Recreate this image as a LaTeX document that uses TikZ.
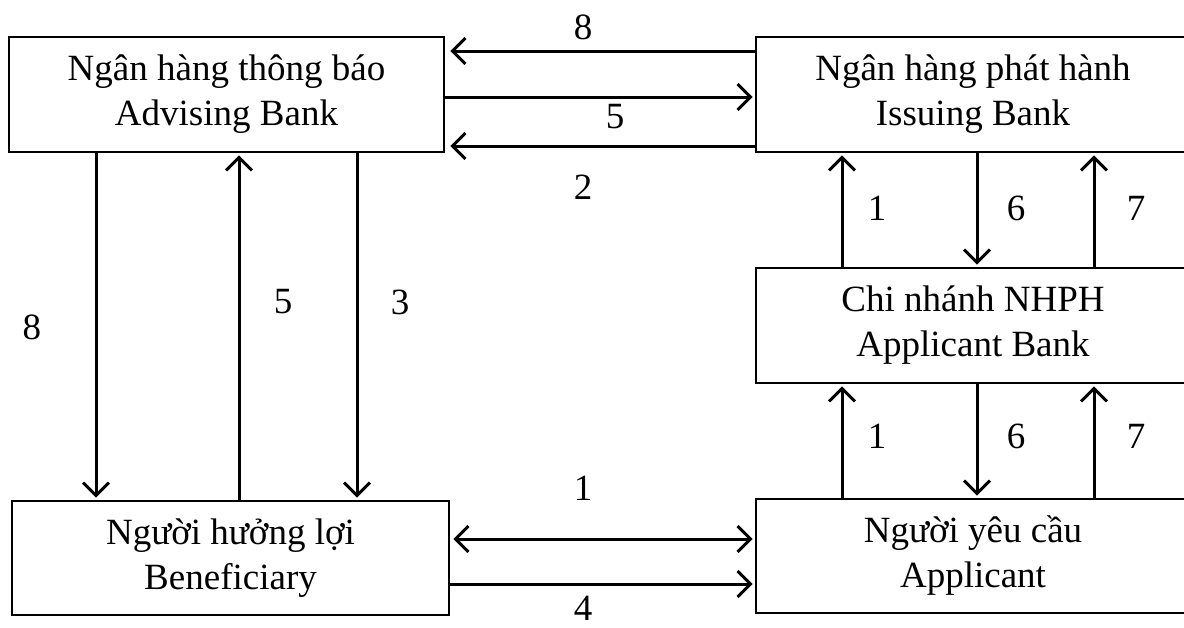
\documentclass[tikz,border=0pt]{standalone}
\usepackage{fontspec}
\setmainfont{Liberation Serif}
\usetikzlibrary{arrows.meta}
\begin{document}
\begin{tikzpicture}[x=1pt,y=-1pt,
  box/.style={draw,line width=2.6pt,inner sep=0pt,align=center,
    font=\fontsize{37}{45}\selectfont},
  lbl/.style={font=\fontsize{37}{45}\selectfont,inner sep=0pt},
  conn/.style={line width=3pt},
  arr/.style={conn,-{Straight Barb[length=13pt,width=26pt,line width=3pt]},shorten >=2pt},
  arrb/.style={conn,{Straight Barb[length=13pt,width=26pt,line width=3pt]}-{Straight Barb[length=13pt,width=26pt,line width=3pt]},shorten >=2pt,shorten <=2pt}]
\useasboundingbox (0,0) rectangle (1184,627);
\clip (0,0) rectangle (1184,627);

% boxes
\node[box,minimum width=435pt,minimum height=115pt] (adv) at (226.5,94.5)
  {Ngân hàng thông báo\\Advising Bank};
\node[box,minimum width=434pt,minimum height=115pt] (iss) at (973,94.5)
  {Ngân hàng phát hành\\Issuing Bank};
\node[box,minimum width=434pt,minimum height=115pt] (chi) at (973,325.5)
  {Chi nhánh NHPH\\Applicant Bank};
\node[box,minimum width=434pt,minimum height=114pt] (app) at (973,556)
  {Người yêu cầu\\Applicant};
\node[box,minimum width=437pt,minimum height=114pt] (ben) at (230.5,558)
  {Người hưởng lợi\\Beneficiary};

% helper coordinates for connector rows/columns
\coordinate (h8) at (0,51);
\coordinate (h5) at (0,97);
\coordinate (h2) at (0,146);
\coordinate (h1) at (0,539);
\coordinate (h4) at (0,584);
\coordinate (v8) at (96,0);
\coordinate (v5) at (239,0);
\coordinate (v3) at (357,0);
\coordinate (va) at (842,0);
\coordinate (vb) at (977,0);
\coordinate (vc) at (1094,0);

% top horizontal connectors
\draw[arr,shorten >=5pt] (iss.west |- h8) -- (adv.east |- h8);
\draw[arr] (adv.east |- h5) -- (iss.west |- h5);
\draw[arr,shorten >=5pt] (iss.west |- h2) -- (adv.east |- h2);

% bottom horizontal connectors
\draw[arrb,shorten <=3pt] (ben.east |- h1) -- (app.west |- h1);
\draw[arr] (ben.east |- h4) -- (app.west |- h4);

% left vertical connectors
\draw[arr] (adv.south -| v8) -- (ben.north -| v8);
\draw[arr] (ben.north -| v5) -- (adv.south -| v5);
\draw[arr] (adv.south -| v3) -- (ben.north -| v3);

% right upper vertical connectors
\draw[arr] (chi.north -| va) -- (iss.south -| va);
\draw[arr] (iss.south -| vb) -- (chi.north -| vb);
\draw[arr] (chi.north -| vc) -- (iss.south -| vc);

% right lower vertical connectors
\draw[arr] (app.north -| va) -- (chi.south -| va);
\draw[arr] (chi.south -| vb) -- (app.north -| vb);
\draw[arr] (app.north -| vc) -- (chi.south -| vc);

% labels
\node[lbl] (l8t) at (583,27) {8};
\node[lbl] (l5t) at (615,117) {5};
\node[lbl] (l2t) at (583,187) {2};
\node[lbl] (l8l) at (32,327) {8};
\node[lbl] (l5l) at (283,302) {5};
\node[lbl] (l3l) at (400,302) {3};
\node[lbl] (l1u) at (877,208) {1};
\node[lbl] (l6u) at (1016,208) {6};
\node[lbl] (l7u) at (1136,208) {7};
\node[lbl] (l1d) at (877,436) {1};
\node[lbl] (l6d) at (1016,436) {6};
\node[lbl] (l7d) at (1136,436) {7};
\node[lbl] (l1b) at (583,488) {1};
\node[lbl] (l4b) at (583,608) {4};
\end{tikzpicture}
\end{document}
